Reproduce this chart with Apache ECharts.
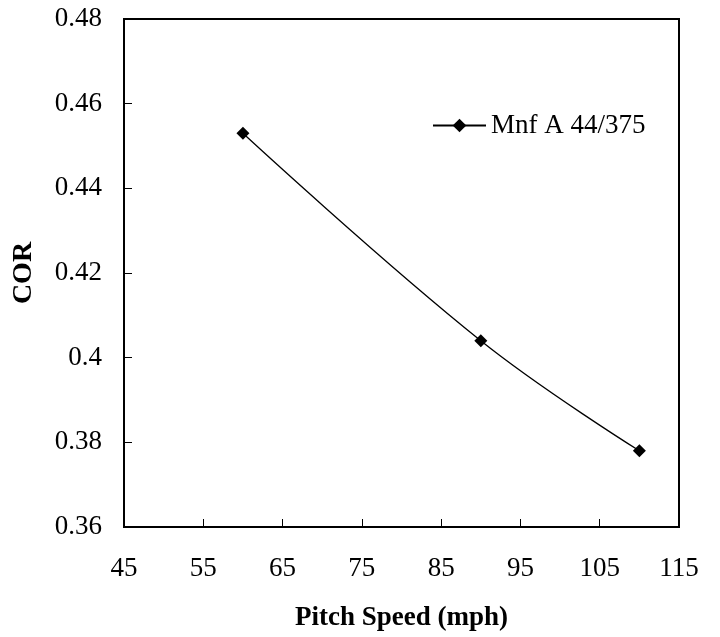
<!DOCTYPE html>
<html><head><meta charset="utf-8">
<script src="https://cdn.jsdelivr.net/npm/echarts@6/dist/echarts.min.js"></script>
<style>html,body{margin:0;padding:0;background:#fff}#c{width:720px;height:637px}</style>
</head><body><div id="c"></div>
<script>
const seriesName = 'Mnf A 44/375';
const pitchSpeed = [60, 90, 110];
const corValues = [0.453, 0.404, 0.378];
const xTicks = [45, 55, 65, 75, 85, 95, 105, 115];
const yTicks = [0.36, 0.38, 0.4, 0.42, 0.44, 0.46, 0.48];

const font = 'Liberation Serif, Times New Roman, serif';
const chart = echarts.init(document.getElementById('c'), null, {renderer: 'canvas'});
chart.setOption({
  animation: false,
  backgroundColor: '#fff',
  grid: {left: 124, right: 41, top: 19, bottom: 109, show: true, borderColor: '#000', borderWidth: 2, backgroundColor: 'transparent'},
  legend: {
    left: 427, top: 107, itemWidth: 53, itemHeight: 17, itemGap: 6,
    lineStyle: {width: 2},
    textStyle: {fontFamily: font, fontSize: 27, color: '#000', padding: [0, 0, 0, 0]},
    data: [seriesName]
  },
  xAxis: {
    type: 'value', min: xTicks[0], max: xTicks[xTicks.length - 1], interval: 10,
    name: 'Pitch Speed (mph)', nameLocation: 'middle', nameGap: 78,
    nameTextStyle: {fontFamily: font, fontSize: 27, fontWeight: 'bold', color: '#000'},
    axisLine: {show: true, lineStyle: {color: '#000', width: 2}},
    axisTick: {show: true, inside: true, length: 8, lineStyle: {color: '#000', width: 1}},
    axisLabel: {fontFamily: font, fontSize: 27, color: '#000', margin: 28},
    splitLine: {show: false}
  },
  yAxis: {
    type: 'value', min: yTicks[0], max: yTicks[yTicks.length - 1], interval: 0.02,
    name: 'COR', nameLocation: 'middle', nameGap: 86, nameRotate: 90,
    nameTextStyle: {fontFamily: font, fontSize: 28, fontWeight: 'bold', color: '#000'},
    axisLine: {show: true, lineStyle: {color: '#000', width: 2}},
    axisTick: {show: true, inside: true, length: 8, lineStyle: {color: '#000', width: 1}},
    axisLabel: {fontFamily: font, fontSize: 27, color: '#000', margin: 22,
      formatter: v => String(parseFloat(v.toFixed(2)))},
    splitLine: {show: false}
  },
  series: [{
    name: seriesName, type: 'line', smooth: 0.4,
    data: pitchSpeed.map((x, i) => [x, corValues[i]]),
    symbol: 'diamond', symbolSize: 13,
    lineStyle: {color: '#000', width: 1.3},
    itemStyle: {color: '#000'}
  }]
});
</script></body></html>
